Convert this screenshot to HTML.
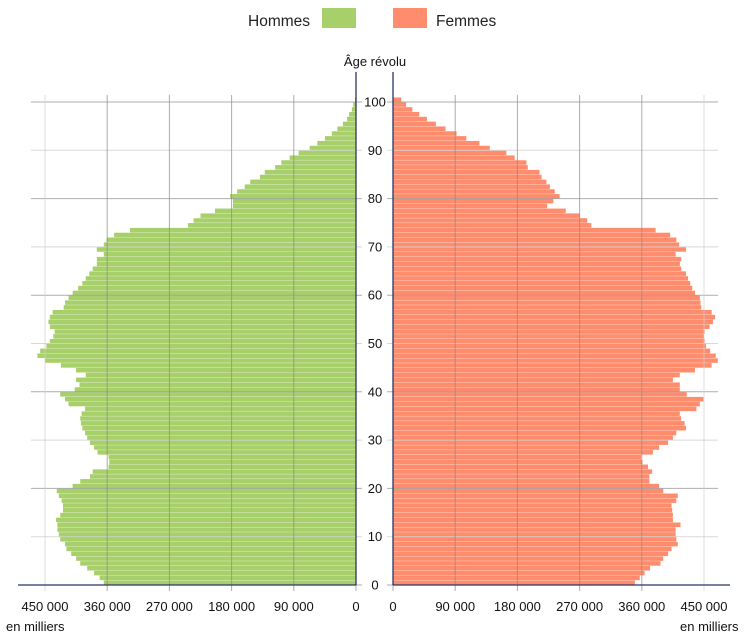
<!DOCTYPE html>
<html><head><meta charset="utf-8"><style>
body{margin:0;background:#fff;}
svg{display:block;font-family:"Liberation Sans","DejaVu Sans",sans-serif;}
</style></head><body>
<svg id="c" width="755" height="639" viewBox="0 0 755 639">
<g>
<text x="248" y="26" font-size="15.5" fill="#222">Hommes</text>
<rect x="322" y="8" width="34" height="20" fill="#a8d06a"/>
<rect x="393" y="8" width="34" height="20" fill="#ff8c6c"/>
<text x="436" y="26" font-size="15.5" fill="#222">Femmes</text>
</g>
<text x="375" y="66" font-size="13" text-anchor="middle" fill="#111">Âge révolu</text>
<g id="bars"></g>
<g id="grid"></g>
<g id="axes"></g>
<text x="6" y="631" font-size="13" fill="#111">en milliers</text>
<text x="680" y="631" font-size="13" fill="#111">en milliers</text>
</svg>
<script>
const ages = Array.from({length:101},(_, i)=>i);
const hommes = [365,371,379,389,399,405,412,419,421,428,430,432,432,434,428,424,424,426,430,433,
410,399,385,381,358,357,358,374,379,385,389,392,396,398,399,397,392,416,421,428,
407,400,405,391,405,427,450,461,457,448,443,438,436,443,445,443,439,423,421,416,
410,402,396,391,386,381,375,375,365,375,365,361,350,327,243,235,225,204,178,178,
182,172,161,153,139,132,117,108,96,83,67,56,45,35,27,19,13,10,6,4,1.5];
const femmes = [350,357,364,372,387,391,398,403,412,410,409,409,416,405,405,404,403,410,412,391,
385,371,371,375,369,361,359,376,385,398,405,410,424,422,417,415,439,444,449,425,
415,415,405,415,437,461,470,467,459,453,451,450,451,458,463,466,461,446,445,444,
437,433,430,427,424,417,415,417,409,424,414,410,401,380,287,281,270,250,223,232,
241,234,227,222,215,212,195,193,176,164,140,125,106,92,76,62,49,38,28,19,12];
const xTicks = [0,90000,180000,270000,360000,450000];
const xTickLabels = ["0","90 000","180 000","270 000","360 000","450 000"];
const ageTicks = [0,10,20,30,40,50,60,70,80,90,100];

const NS="http://www.w3.org/2000/svg";
const L0=356, R0=393, K=311/450;
const xl=v=>L0-v*K, xr=v=>R0+v*K;
const y=a=>585-a*4.83;
function mk(tag,attrs,parent){const e=document.createElementNS(NS,tag);for(const k in attrs)e.setAttribute(k,attrs[k]);parent.appendChild(e);return e;}
const grid=document.getElementById('grid'),bars=document.getElementById('bars'),axes=document.getElementById('axes');

ageTicks.forEach(a=>{
  const c=(a%20===10)?"#cfcfcf":"#9a9a9a";
  const g1=mk('line',{x1:31,x2:362,y1:y(a),y2:y(a),stroke:c,'stroke-width':1,opacity:0.8},grid);
  
  
  const g2=mk('line',{x1:387,x2:718,y1:y(a),y2:y(a),stroke:c,'stroke-width':1,opacity:0.8},grid);
  
  
  const t=mk('text',{x:375,y:y(a)+4.5,'font-size':13,'text-anchor':'middle',fill:'#111'},axes);
  t.textContent=a;
  
  
});
xTicks.forEach((v,i)=>{
  const c=(v===450000)?"#cfcfcf":"#8a8a8a";
  const a1=mk('line',{x1:xl(v/1000),x2:xl(v/1000),y1:95,y2:591,stroke:c,opacity:0.7},grid);
  
  
  const a2=mk('line',{x1:xr(v/1000),x2:xr(v/1000),y1:95,y2:591,stroke:c,opacity:0.7},grid);
  
  
  const t1=mk('text',{x:xl(v/1000),y:611,'font-size':13,'text-anchor':'middle',fill:'#111'},axes);
  t1.textContent=xTickLabels[i];
  
  
  const t2=mk('text',{x:xr(v/1000),y:611,'font-size':13,'text-anchor':'middle',fill:'#111'},axes);
  t2.textContent=xTickLabels[i];
  
  
});
ages.forEach((a,i)=>{
  const h=hommes[i], f=femmes[i];
  const b1=mk('rect',{x:xl(h),y:y(a+1)+0.3,width:h*K,height:4.53,fill:'#a8d06a'},bars);
  
  
  const b2=mk('rect',{x:R0,y:y(a+1)+0.3,width:f*K,height:4.53,fill:'#ff8c6c'},bars);
  
  
});
[[18,585,356,585],[393,585,730,585],[356,72,356,585],[393,72,393,585]].forEach(p=>{
  const l=mk('line',{x1:p[0],y1:p[1],x2:p[2],y2:p[3],stroke:'#2b3566','stroke-width':1.3},axes);
  
  
});
</script>
</body></html>
